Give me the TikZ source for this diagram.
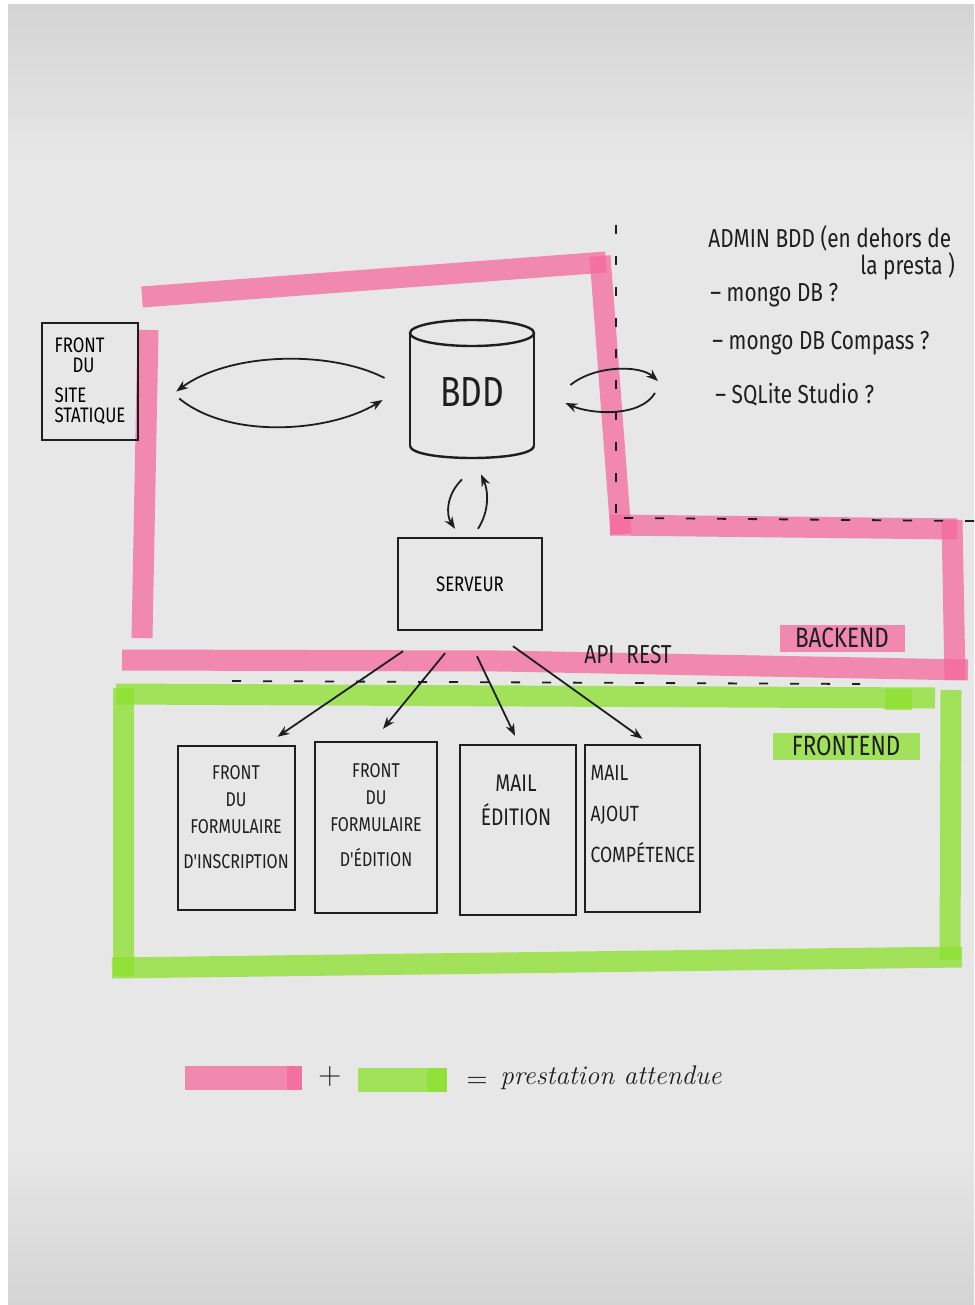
\documentclass[tikz,border=0pt]{standalone}
\usepackage{fontspec}
\newfontfamily\hand[FakeStretch=0.8]{Fira Sans}
\usetikzlibrary{arrows.meta,calc}
\definecolor{ink}{RGB}{30,30,30}
\definecolor{hpink}{RGB}{245,105,155}
\definecolor{hgreen}{RGB}{140,225,45}
\definecolor{plight}{RGB}{231,231,231}
\definecolor{pdark}{RGB}{212,212,212}
\pgfdeclareverticalshading{paper}{100bp}{color(0bp)=(pdark); color(25bp)=(pdark); color(31bp)=(plight); color(69bp)=(plight); color(75bp)=(pdark); color(100bp)=(pdark)}
\tikzset{
  pen/.style={draw=ink, line width=1.2pt},
  box/.style={pen, rectangle, inner sep=0pt},
  lbl/.style={text=ink, align=center, inner sep=0pt},
  arr/.style={draw=ink, line width=0.9pt, -{Stealth[length=6pt,width=4.5pt]}},
  hlp/.style={draw=hpink, line width=10.5pt, draw opacity=0.75},
  hlg/.style={draw=hgreen, line width=10.5pt, draw opacity=0.75},
  dsh/.style={draw=ink, line width=0.9pt, dash pattern=on 4.5pt off 11pt},
  tag/.style={text=ink, inner sep=0pt, fill opacity=0.75, text opacity=1, minimum height=13.5pt},
}
\begin{document}
\begin{tikzpicture}[x=0.5pt,y=-0.5pt]
\useasboundingbox (0,0) rectangle (974,1305);
\fill[white] (0,0) rectangle (974,1305);
\shade[shading=paper] (8,5) rectangle (974,1305);

% ---- highlighter: backend (pink)
\draw[hlp] (142,297) -- (606,262);
\draw[hlp] (600,256) -- (621,534);
\draw[hlp] (610,525) -- (957,529);
\draw[hlp] (952,520) -- (955,680);
\draw[hlp] (148,330) -- (142,638);
\draw[hlp] (122,660) -- (500,661) -- (968,670);
% ---- highlighter: frontend (green)
\draw[hlg] (116,694) -- (935,698);
\draw[hlg] (885,699) -- (912,699);
\draw[hlg] (951,690) -- (950,960);
\draw[hlg] (123,688) -- (123,976);
\draw[hlg] (112,968) -- (962,957);

% ---- dashed boundaries
\draw[dsh] (616,225) -- (616,530);
\draw[dsh] (624,518) -- (975,521);
\draw[dsh] (232,681) -- (860,684);

% ---- tags
\node[tag, fill=hpink, minimum width=62.5pt, font=\hand\fontsize{14}{14}\selectfont] (backend) at (842,638) {BACKEND};
\node[tag, fill=hgreen, minimum width=73.5pt, font=\hand\fontsize{14}{14}\selectfont] (frontend) at (846,746) {FRONTEND};

% ---- nodes
\node[box, minimum width=48pt, minimum height=58.5pt, align=left, font=\hand\fontsize{10.5}{10}\selectfont] (site) at (90,381.5)
  {FRONT\\\hspace*{9pt}DU\\[5pt]SITE\\STATIQUE};

\node[minimum width=62pt, minimum height=69pt, inner sep=0pt, font=\hand\fontsize{21}{21}\selectfont, text=ink] (bdd) at (472,392) {BDD};
\draw[pen] (472,333) ellipse [x radius=31pt, y radius=6.5pt];
\draw[pen] (410,333) -- (410,446);
\draw[pen] (534,333) -- (534,446);
\draw[pen] (410,446) .. controls (412,462) and (532,462) .. (534,446);

\node[box, minimum width=72pt, minimum height=46pt, font=\hand\fontsize{10.5}{10}\selectfont] (serv) at (470,584) {SERVEUR};

\node[box, minimum width=58.5pt, minimum height=82pt] (b1) at (236.5,828) {};
\node[box, minimum width=61pt, minimum height=85.5pt] (b2) at (376,827.5) {};
\node[box, minimum width=58pt, minimum height=85pt] (b3) at (518,830) {};
\node[box, minimum width=57.5pt, minimum height=83.5pt] (b4) at (642.5,828.5) {};

\node[lbl, font=\hand\fontsize{10}{13.5}\selectfont] (t1) at (236,817) {FRONT\\DU\\FORMULAIRE\\[4pt]D'INSCRIPTION};
\node[lbl, font=\hand\fontsize{10}{13.5}\selectfont] (t2) at (376,815) {FRONT\\DU\\FORMULAIRE\\[4pt]D'ÉDITION};
\node[lbl, font=\hand\fontsize{12}{17}\selectfont] (t3) at (516,800) {MAIL\\ÉDITION};
\node[lbl, align=left, font=\hand\fontsize{11}{20.5}\selectfont] (t4) at (643,814) {MAIL\\AJOUT\\COMPÉTENCE};

\node[lbl, font=\hand\fontsize{13}{13}\selectfont] (api) at (628,655) {API\hspace{6pt}REST};

% ---- admin text
\node[lbl, anchor=west, font=\hand\fontsize{13}{13}\selectfont] (adm1) at (708,238) {ADMIN BDD (en dehors de};
\node[lbl, anchor=west, font=\hand\fontsize{13}{13}\selectfont] (adm2) at (860,266) {la presta )};
\node[lbl, anchor=west, font=\hand\fontsize{13}{13}\selectfont] (adm3) at (710,295) {– mongo DB ?};
\node[lbl, anchor=west, font=\hand\fontsize{13}{13}\selectfont] (adm4) at (712,343) {– mongo DB Compass ?};
\node[lbl, anchor=west, font=\hand\fontsize{13}{13}\selectfont] (adm5) at (715,395) {– SQLite Studio ?};
\coordinate (admA) at (658,381);
\coordinate (admB) at (655,393);

% ---- connectors
\draw[arr] ($(bdd.west)+(-25,-14)$) .. controls (330,350) and (230,352) .. ($(site.east)+(37,10)$);
\draw[arr] ($(site.east)+(40,17)$) .. controls (230,440) and (330,432) .. ($(bdd.west)+(-27,8)$);
\draw[arr] ($(bdd.east)+(36,-7)$) .. controls (595,365) and (640,365) .. (admA);
\draw[arr] (admB) .. controls (640,418) and (590,414) .. ($(bdd.east)+(31,11)$);
\draw[arr] ($(bdd.south)+(-10,18)$) .. controls (446,495) and (446,515) .. ($(serv.north)+(-15,-8)$);
\draw[arr] ($(serv.north)+(8,-8)$) .. controls (490,510) and (488,490) .. ($(bdd.south)+(9,13)$);

\draw[arr] ($(serv.south)+(-67,20)$) -- ($(b1.north)+(41,-8)$);
\draw[arr] ($(serv.south)+(-25,22)$) -- ($(b2.north)+(7,-12)$);
\draw[arr] ($(serv.south)+(7,25)$) -- ($(b3.north)+(-3,-8)$);
\draw[arr] ($(serv.south)+(43,15)$) -- ($(b4.north)+(0,-5)$);

% ---- legend
\draw[hlp, line width=12pt] (185,1078) -- (302,1078);
\draw[hlp, line width=12pt] (287,1078) -- (302,1078);
\node[lbl, font=\fontsize{16}{16}\selectfont] (plus) at (330,1077) {+};
\draw[hlg, line width=12pt] (358,1080) -- (447,1080);
\draw[hlg, line width=12pt] (427,1080) -- (447,1080);
\node[lbl, font=\fontsize{14}{14}\selectfont] (eq) at (477,1082) {=};
\node[lbl, anchor=west, font=\itshape\fontsize{13.5}{13.5}\selectfont] (presta) at (500,1078) {prestation attendue};
\end{tikzpicture}
\end{document}
